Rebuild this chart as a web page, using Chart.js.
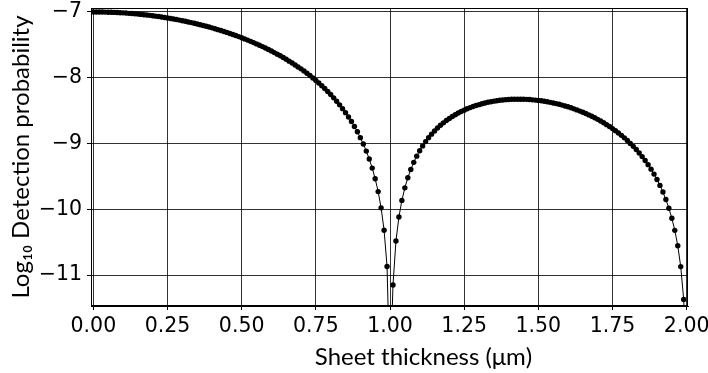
<!DOCTYPE html>
<html>
<head>
<meta charset="utf-8">
<script src="https://cdn.jsdelivr.net/npm/chart.js@4.4.1/dist/chart.umd.min.js"></script>
<style>
html, body { margin: 0; padding: 0; background: #fff; }
#wrap { width: 708px; height: 373px; }
</style>
</head>
<body>
<div id="wrap"><canvas id="chart" width="708" height="373"></canvas></div>
<script>
// sheet thickness (um)
const thickness = [
    0.00, 0.01, 0.02, 0.03, 0.04, 0.05, 0.06, 0.07, 0.08, 0.09,
    0.10, 0.11, 0.12, 0.13, 0.14, 0.15, 0.16, 0.17, 0.18, 0.19,
    0.20, 0.21, 0.22, 0.23, 0.24, 0.25, 0.26, 0.27, 0.28, 0.29,
    0.30, 0.31, 0.32, 0.33, 0.34, 0.35, 0.36, 0.37, 0.38, 0.39,
    0.40, 0.41, 0.42, 0.43, 0.44, 0.45, 0.46, 0.47, 0.48, 0.49,
    0.50, 0.51, 0.52, 0.53, 0.54, 0.55, 0.56, 0.57, 0.58, 0.59,
    0.60, 0.61, 0.62, 0.63, 0.64, 0.65, 0.66, 0.67, 0.68, 0.69,
    0.70, 0.71, 0.72, 0.73, 0.74, 0.75, 0.76, 0.77, 0.78, 0.79,
    0.80, 0.81, 0.82, 0.83, 0.84, 0.85, 0.86, 0.87, 0.88, 0.89,
    0.90, 0.91, 0.92, 0.93, 0.94, 0.95, 0.96, 0.97, 0.98, 0.99,
    1.00, 1.01, 1.02, 1.03, 1.04, 1.05, 1.06, 1.07, 1.08, 1.09,
    1.10, 1.11, 1.12, 1.13, 1.14, 1.15, 1.16, 1.17, 1.18, 1.19,
    1.20, 1.21, 1.22, 1.23, 1.24, 1.25, 1.26, 1.27, 1.28, 1.29,
    1.30, 1.31, 1.32, 1.33, 1.34, 1.35, 1.36, 1.37, 1.38, 1.39,
    1.40, 1.41, 1.42, 1.43, 1.44, 1.45, 1.46, 1.47, 1.48, 1.49,
    1.50, 1.51, 1.52, 1.53, 1.54, 1.55, 1.56, 1.57, 1.58, 1.59,
    1.60, 1.61, 1.62, 1.63, 1.64, 1.65, 1.66, 1.67, 1.68, 1.69,
    1.70, 1.71, 1.72, 1.73, 1.74, 1.75, 1.76, 1.77, 1.78, 1.79,
    1.80, 1.81, 1.82, 1.83, 1.84, 1.85, 1.86, 1.87, 1.88, 1.89,
    1.90, 1.91, 1.92, 1.93, 1.94, 1.95, 1.96, 1.97, 1.98, 1.99,
    2.00
];

// log10 of detection probability
const logProb = [
    -7.000, -7.000, -7.001, -7.001, -7.002, -7.004, -7.005, -7.007, -7.009, -7.012,
    -7.014, -7.017, -7.021, -7.024, -7.028, -7.032, -7.037, -7.042, -7.047, -7.052,
    -7.058, -7.064, -7.070, -7.077, -7.084, -7.091, -7.099, -7.107, -7.115, -7.124,
    -7.133, -7.142, -7.152, -7.162, -7.172, -7.183, -7.194, -7.205, -7.217, -7.229,
    -7.242, -7.255, -7.269, -7.282, -7.297, -7.311, -7.327, -7.342, -7.359, -7.375,
    -7.392, -7.410, -7.428, -7.447, -7.466, -7.486, -7.506, -7.527, -7.549, -7.571,
    -7.594, -7.618, -7.642, -7.667, -7.693, -7.720, -7.748, -7.776, -7.806, -7.836,
    -7.865, -7.897, -7.931, -7.966, -8.003, -8.041, -8.080, -8.121, -8.164, -8.209,
    -8.256, -8.306, -8.357, -8.412, -8.470, -8.531, -8.596, -8.666, -8.741, -8.822,
    -8.911, -9.008, -9.115, -9.236, -9.374, -9.536, -9.731, -9.978, -10.318, -10.870,
    -12.650, -11.150, -10.483, -10.117, -9.865, -9.674, -9.521, -9.394, -9.286, -9.192,
    -9.109, -9.036, -8.971, -8.911, -8.858, -8.809, -8.764, -8.723, -8.686, -8.651,
    -8.619, -8.590, -8.562, -8.537, -8.513, -8.493, -8.472, -8.454, -8.437, -8.422,
    -8.409, -8.395, -8.383, -8.373, -8.364, -8.356, -8.349, -8.343, -8.338, -8.333,
    -8.330, -8.328, -8.326, -8.326, -8.326, -8.327, -8.329, -8.332, -8.336, -8.340,
    -8.345, -8.351, -8.358, -8.366, -8.374, -8.383, -8.393, -8.404, -8.416, -8.429,
    -8.442, -8.457, -8.473, -8.489, -8.507, -8.525, -8.544, -8.565, -8.586, -8.609,
    -8.633, -8.658, -8.685, -8.713, -8.742, -8.773, -8.806, -8.840, -8.876, -8.914,
    -8.955, -8.998, -9.043, -9.092, -9.144, -9.199, -9.258, -9.321, -9.390, -9.465,
    -9.547, -9.637, -9.738, -9.852, -9.983, -10.136, -10.320, -10.554, -10.871, -11.370,
    -12.650
];

const xTicks = [0, 0.25, 0.5, 0.75, 1, 1.25, 1.5, 1.75, 2];
const yTicks = [-11, -10, -9, -8, -7];
const xTitle = 'Sheet thickness (μm)';
const yTitle = 'Log₁₀ Detection probability';

const points = thickness.map((t, i) => ({ x: t, y: logProb[i] }));

const tickFont = { family: 'DejaVu Sans', size: 20.5 };
const titleFont = { family: 'Lato', size: 24 };

// box round the plot area, and the x title which sits right of centre in the original
const frame = {
    id: 'frame',
    afterDraw(chart) {
        const { ctx, chartArea } = chart;
        ctx.save();
        ctx.strokeStyle = '#000';
        ctx.lineWidth = 1;
        ctx.strokeRect(Math.round(chartArea.left) + 0.5, Math.round(chartArea.top) + 0.5,
            Math.round(chartArea.right - chartArea.left) - 1, Math.round(chartArea.bottom - chartArea.top) - 1);
        ctx.fillStyle = '#000';
        ctx.font = titleFont.size + 'px ' + titleFont.family;
        ctx.textAlign = 'center';
        ctx.textBaseline = 'middle';
        ctx.fillText(xTitle, chartArea.left + (chartArea.right - chartArea.left) * 0.557, chartArea.bottom + 51);
        ctx.restore();
    }
};

new Chart(document.getElementById('chart'), {
    type: 'line',
    data: {
        datasets: [{
            data: points,
            borderColor: '#000',
            borderWidth: 1,
            pointRadius: 2.7,
            pointBackgroundColor: '#000',
            pointBorderWidth: 0,
            tension: 0
        }]
    },
    options: {
        responsive: false,
        devicePixelRatio: 1,
        animation: false,
        layout: { padding: { left: 0, right: 20, top: 8, bottom: 0 } },
        plugins: {
            legend: { display: false },
            tooltip: { enabled: false }
        },
        scales: {
            x: {
                type: 'linear',
                min: -0.008,
                max: 2.0045,
                afterBuildTicks: scale => { scale.ticks = xTicks.map(v => ({ value: v })); },
                afterFit: scale => { scale.height = 67; scale.paddingLeft = 0; scale.paddingRight = 0; },
                ticks: {
                    color: '#000',
                    font: tickFont,
                    padding: 4,
                    maxRotation: 0,
                    callback: v => v.toFixed(2)
                },
                grid: { color: 'rgba(0,0,0,0.8)', tickColor: '#000', tickLength: 4 },
                border: { color: '#000' },
                title: { display: false }
            },
            y: {
                min: -11.47,
                max: -6.94,
                afterBuildTicks: scale => { scale.ticks = yTicks.map(v => ({ value: v })); },
                afterFit: scale => { scale.width = 91; scale.paddingTop = 0; scale.paddingBottom = 0; },
                ticks: {
                    color: '#000',
                    font: tickFont,
                    padding: 5,
                    callback: v => '\u2212' + Math.abs(v)
                },
                grid: { color: 'rgba(0,0,0,0.8)', tickColor: '#000', tickLength: 4 },
                border: { color: '#000' },
                title: {
                    display: true,
                    text: yTitle,
                    color: '#000',
                    font: titleFont,
                    padding: { top: 7, bottom: 0 }
                }
            }
        }
    },
    plugins: [frame]
});
</script>
</body>
</html>
